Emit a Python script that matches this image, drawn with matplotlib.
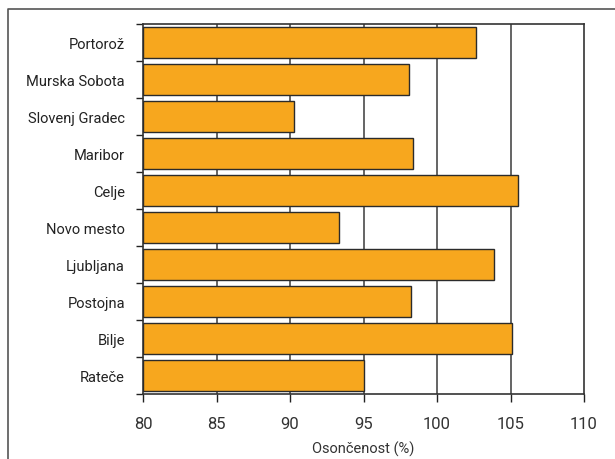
import matplotlib

matplotlib.use("Agg")
import matplotlib.pyplot as plt
from matplotlib.lines import Line2D

# stations listed bottom to top
stations = ["Rateče", "Bilje", "Postojna", "Ljubljana", "Novo mesto",
            "Celje", "Maribor", "Slovenj Gradec", "Murska Sobota", "Portorož"]
sunshine = [95.0, 105.1, 98.2, 103.9, 93.3, 105.5, 98.4, 90.3, 98.1, 102.65]
x_ticks = [80, 85, 90, 95, 100, 105, 110]

plt.rcParams["font.family"] = ["Roboto", "DejaVu Sans"]

fig = plt.figure(figsize=(6.15, 4.6), dpi=100)
ax = fig.add_axes([143 / 615, 1 - 395 / 460, (584 - 143) / 615, (395 - 25) / 460])

positions = list(range(len(stations)))
base = x_ticks[0]
ax.barh(positions, [v - base for v in sunshine], left=base, height=0.82,
        color="#F7A71E", edgecolor="#2b2b2b", linewidth=1.0, zorder=3)

ax.set_xlim(x_ticks[0], x_ticks[-1])
ax.set_ylim(-0.5, len(stations) - 0.5)
ax.set_xticks(x_ticks)
ax.set_xticklabels([str(t) for t in x_ticks], fontsize=12, color="#333333")
for t in x_ticks[1:-1]:
    ax.axvline(t, color="#3a3a3a", linewidth=1.1, zorder=1)

ax.set_yticks(positions)
ax.set_yticklabels(stations, fontsize=10.5, color="#222222")
ax.set_yticks([p - 0.5 for p in range(len(stations) + 1)], minor=True)
ax.tick_params(axis="y", which="major", length=0, pad=13)
ax.tick_params(axis="y", which="minor", length=5, width=1.0, color="#222222")
ax.tick_params(axis="x", which="major", length=6, width=1.0, color="#222222", pad=10)

for side in ["left", "right", "top", "bottom"]:
    ax.spines[side].set_color("#333333")
    ax.spines[side].set_linewidth(1.2)

ax.set_xlabel("Osončenost (%)", fontsize=10.5, color="#333333", labelpad=7)

# outer frame of the figure
fig.add_artist(Line2D([8 / 615, 8 / 615, 1.0], [0.0, 1 - 10 / 460, 1 - 10 / 460],
                      transform=fig.transFigure, color="#555555", linewidth=1.2))

fig.savefig("out.png", dpi=100)
